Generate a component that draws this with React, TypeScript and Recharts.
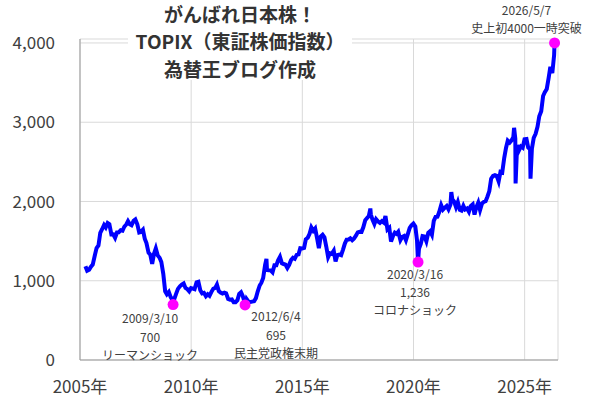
import React from 'react';
import { LineChart, Line, XAxis, YAxis, CartesianGrid, ReferenceDot } from 'recharts';

// TOPIX month-end closes plus a few intraday-ish lows/highs
const dates = [
  '2005-03-31', '2005-04-28', '2005-05-31', '2005-06-30', '2005-07-29', '2005-08-31', '2005-09-30', '2005-10-31', '2005-11-30', '2005-12-30',
  '2006-01-31', '2006-02-28', '2006-03-31', '2006-04-28', '2006-05-31', '2006-06-30', '2006-07-31', '2006-08-31', '2006-09-29', '2006-10-31', '2006-11-30', '2006-12-29',
  '2007-01-31', '2007-02-28', '2007-03-30', '2007-04-27', '2007-05-31', '2007-06-29', '2007-07-31', '2007-08-31', '2007-09-28', '2007-10-31', '2007-11-30', '2007-12-28',
  '2008-01-31', '2008-02-29', '2008-03-31', '2008-04-30', '2008-05-30', '2008-06-30', '2008-07-31', '2008-08-29', '2008-09-30', '2008-10-31', '2008-11-28', '2008-12-30',
  '2009-01-30', '2009-02-27', '2009-03-10', '2009-03-31', '2009-04-30', '2009-05-29', '2009-06-30', '2009-07-31', '2009-08-31', '2009-09-30', '2009-10-30', '2009-11-30', '2009-12-30',
  '2010-01-29', '2010-02-26', '2010-03-31', '2010-04-30', '2010-05-31', '2010-06-30', '2010-07-30', '2010-08-31', '2010-09-30', '2010-10-29', '2010-11-30', '2010-12-30',
  '2011-01-31', '2011-02-28', '2011-03-31', '2011-04-28', '2011-05-31', '2011-06-30', '2011-07-29', '2011-08-31', '2011-09-30', '2011-10-31', '2011-11-30', '2011-12-30',
  '2012-01-31', '2012-02-29', '2012-03-30', '2012-04-27', '2012-05-31', '2012-06-04', '2012-06-29', '2012-07-31', '2012-08-31', '2012-09-28', '2012-10-31', '2012-11-30', '2012-12-28',
  '2013-01-31', '2013-02-28', '2013-03-29', '2013-04-30', '2013-05-22', '2013-05-31', '2013-06-28', '2013-07-31', '2013-08-30', '2013-09-30', '2013-10-31', '2013-11-29', '2013-12-30',
  '2014-01-31', '2014-02-28', '2014-03-31', '2014-04-30', '2014-05-30', '2014-06-30', '2014-07-31', '2014-08-29', '2014-09-30', '2014-10-31', '2014-11-28', '2014-12-30',
  '2015-01-30', '2015-02-27', '2015-03-31', '2015-04-30', '2015-05-29', '2015-06-30', '2015-07-31', '2015-08-31', '2015-09-30', '2015-10-30', '2015-11-30', '2015-12-30',
  '2016-01-29', '2016-02-29', '2016-03-31', '2016-04-28', '2016-05-31', '2016-06-30', '2016-07-29', '2016-08-31', '2016-09-30', '2016-10-31', '2016-11-30', '2016-12-30',
  '2017-01-31', '2017-02-28', '2017-03-31', '2017-04-28', '2017-05-31', '2017-06-30', '2017-07-31', '2017-08-31', '2017-09-29', '2017-10-31', '2017-11-30', '2017-12-29',
  '2018-01-23', '2018-01-31', '2018-02-28', '2018-03-30', '2018-04-27', '2018-05-31', '2018-06-29', '2018-07-31', '2018-08-31', '2018-09-28', '2018-10-31', '2018-11-30', '2018-12-28',
  '2019-01-31', '2019-02-28', '2019-03-29', '2019-04-26', '2019-05-31', '2019-06-28', '2019-07-31', '2019-08-30', '2019-09-30', '2019-10-31', '2019-11-29', '2019-12-30',
  '2020-01-31', '2020-02-28', '2020-03-16', '2020-03-31', '2020-04-30', '2020-05-29', '2020-06-30', '2020-07-31', '2020-08-31', '2020-09-30', '2020-10-30', '2020-11-30', '2020-12-30',
  '2021-01-29', '2021-02-26', '2021-03-31', '2021-04-30', '2021-05-31', '2021-06-30', '2021-07-30', '2021-08-31', '2021-09-14', '2021-09-30', '2021-10-29', '2021-11-30', '2021-12-30',
  '2022-01-31', '2022-02-28', '2022-03-31', '2022-04-28', '2022-05-31', '2022-06-30', '2022-07-29', '2022-08-31', '2022-09-30', '2022-10-31', '2022-11-30', '2022-12-30',
  '2023-01-31', '2023-02-28', '2023-03-31', '2023-04-28', '2023-05-31', '2023-06-30', '2023-07-31', '2023-08-31', '2023-09-29', '2023-10-31', '2023-11-30', '2023-12-29',
  '2024-01-31', '2024-02-29', '2024-03-29', '2024-04-30', '2024-05-31', '2024-06-28', '2024-07-11', '2024-07-31', '2024-08-05', '2024-08-30', '2024-09-30', '2024-10-31', '2024-11-29', '2024-12-30',
  '2025-01-31', '2025-02-28', '2025-03-31', '2025-04-07', '2025-04-30', '2025-05-30', '2025-06-30', '2025-07-31', '2025-08-29', '2025-09-30', '2025-10-31', '2025-11-28', '2025-12-30',
  '2026-01-30', '2026-02-27', '2026-03-31', '2026-04-30', '2026-05-07',
];

const topix = [
  1182, 1126, 1140, 1177, 1204, 1316, 1412, 1444, 1605, 1650,
  1703, 1673, 1728, 1714, 1585, 1586, 1542, 1609, 1610, 1637, 1631, 1681,
  1710, 1752, 1713, 1700, 1756, 1774, 1712, 1609, 1616, 1644, 1531, 1475,
  1355, 1329, 1212, 1340, 1408, 1320, 1290, 1236, 1087, 867, 830, 859,
  794, 756, 700, 773, 837, 897, 929, 950, 965, 909, 894, 867, 907,
  901, 894, 979, 987, 880, 841, 848, 805, 829, 810, 860, 899,
  910, 951, 869, 851, 838, 849, 841, 770, 761, 764, 728, 729,
  755, 835, 854, 808, 719, 695, 770, 736, 731, 737, 742, 781, 860,
  940, 975, 1034, 1201, 1276, 1135, 1133, 1131, 1106, 1194, 1194, 1258, 1302,
  1220, 1211, 1203, 1162, 1201, 1262, 1289, 1277, 1326, 1333, 1410, 1407,
  1415, 1523, 1543, 1592, 1673, 1630, 1659, 1537, 1411, 1558, 1580, 1547,
  1432, 1297, 1347, 1340, 1379, 1245, 1322, 1329, 1322, 1393, 1469, 1518,
  1521, 1535, 1512, 1531, 1568, 1611, 1618, 1617, 1674, 1765, 1792, 1817,
  1911, 1836, 1768, 1716, 1777, 1747, 1730, 1753, 1735, 1817, 1646, 1667, 1494,
  1567, 1607, 1591, 1617, 1512, 1551, 1565, 1511, 1587, 1667, 1699, 1721,
  1684, 1510, 1236, 1403, 1464, 1563, 1558, 1496, 1604, 1625, 1579, 1755, 1805,
  1808, 1864, 1954, 1898, 1923, 1943, 1901, 1960, 2118, 2030, 2001, 1928, 1992,
  1896, 1886, 1946, 1899, 1912, 1871, 1940, 1963, 1835, 1929, 1985, 1892,
  1975, 1994, 2003, 2057, 2131, 2288, 2322, 2332, 2323, 2253, 2374, 2366,
  2551, 2675, 2768, 2743, 2772, 2809, 2929, 2794, 2227, 2712, 2645, 2695, 2680, 2785,
  2788, 2682, 2658, 2288, 2667, 2802, 2853, 2943, 3075, 3138, 3331, 3378, 3420,
  3560, 3700, 3620, 3850, 4000,
];

const yearTicks = [2005, 2010, 2015, 2020, 2025];
const valueTicks = [0, 1000, 2000, 3000, 4000];
const titleLines = ['がんばれ日本株！', 'TOPIX（東証株価指数）', '為替王ブログ作成'];

const markDates = ['2009-03-10', '2012-06-04', '2020-03-16', '2026-05-07'];
const markValues = [700, 695, 1236, 4000];
const markNotes = [
  ['2009/3/10', '700', 'リーマンショック'],
  ['2012/6/4', '695', '民主党政権末期'],
  ['2020/3/16', '1,236', 'コロナショック'],
  ['2026/5/7', '史上初4000一時突破'],
];

// where each note sits relative to its dot
const noteOffsets = [
  { dx: -23, dy: 13, gap: 18.5 },
  { dx: 31, dy: 11, gap: 18.5 },
  { dx: -3, dy: 11, gap: 18 },
  { dx: -28, dy: -33, gap: 18 },
];

const toYear = (s: string) => {
  const [y, m, d] = s.split('-').map(Number);
  const start = Date.UTC(y, 0, 1);
  const end = Date.UTC(y + 1, 0, 1);
  return y + (Date.UTC(y, m - 1, d) - start) / (end - start);
};

const data = dates.map((d, i) => ({ t: toYear(d), v: topix[i] }));

const FONT = '"Noto Sans CJK JP", "Noto Sans", sans-serif';

const makeShape = (i: number) => (p: any) => {
  const off = noteOffsets[i];
  return (
    <g>
      <circle cx={p.cx} cy={p.cy} r={5.5} fill="#ff00ff" />
      {markNotes[i].map((t, k) => (
        <text
          key={k}
          x={p.cx + off.dx}
          y={p.cy + off.dy + k * off.gap}
          textAnchor="middle"
          dominantBaseline="central"
          fontSize={12}
          fontFamily={FONT}
          fill="#404040"
        >
          {t}
        </text>
      ))}
    </g>
  );
};

export default function App() {
  return (
    <div style={{ position: 'absolute', left: 0, top: 0, width: 600, height: 400, background: '#fff', fontFamily: FONT }}>
      <LineChart width={600} height={400} data={data} margin={{ top: 39, right: 42, bottom: 10, left: 0 }}>
        <CartesianGrid stroke="#d9d9d9" />
        <XAxis
          dataKey="t"
          type="number"
          domain={[2005, 2026.5]}
          ticks={yearTicks}
          tickFormatter={(v) => `${v}年`}
          height={30}
          tickLine={false}
          tickSize={6}
          tickMargin={15}
          axisLine={{ stroke: '#999' }}
          tick={{ fontSize: 17, fill: '#404040', fontFamily: FONT }}
          allowDataOverflow
        />
        <YAxis
          type="number"
          domain={[0, 4050]}
          ticks={valueTicks}
          tickFormatter={(v) => v.toLocaleString('en-US')}
          width={80}
          tickLine={false}
          tickSize={6}
          tickMargin={19}
          axisLine={{ stroke: '#999' }}
          tick={{ fontSize: 17, fill: '#404040', fontFamily: FONT }}
        />
        <Line
          dataKey="v"
          type="linear"
          stroke="#0000ff"
          strokeWidth={4}
          dot={false}
          isAnimationActive={false}
        />
        {markDates.map((d, i) => (
          <ReferenceDot key={d} x={toYear(d)} y={markValues[i]} r={5.5} shape={makeShape(i)} />
        ))}
      </LineChart>
      <div style={{ position: 'absolute', left: 128, top: 0, width: 224, height: 80, background: '#fff' }}>
        {titleLines.map((t, i) => (
          <div
            key={t}
            style={{
              position: 'absolute',
              left: 0,
              width: '100%',
              top: [2, 29, 57][i],
              height: 24,
              lineHeight: '24px',
              textAlign: 'center',
              fontSize: 19,
              fontWeight: 700,
              color: '#333',
              whiteSpace: 'nowrap',
            }}
          >
            {t}
          </div>
        ))}
      </div>
    </div>
  );
}
